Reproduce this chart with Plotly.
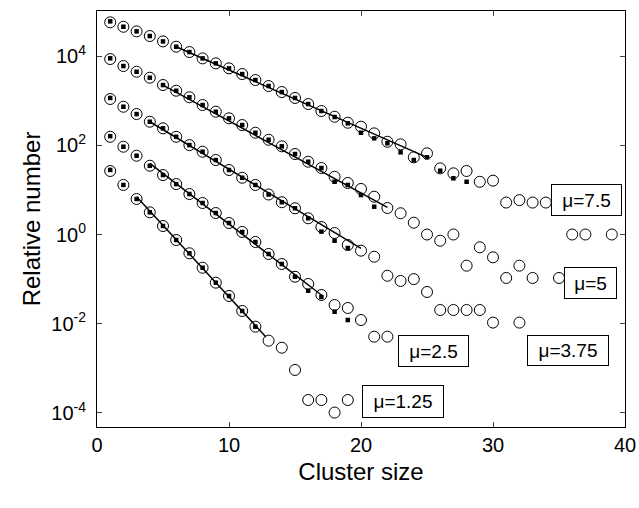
import plotly.graph_objects as go

# ---------------- data ----------------
mu_labels = ["\u03bc=7.5", "\u03bc=5", "\u03bc=3.75", "\u03bc=2.5", "\u03bc=1.25"]

# mu = 7.5
x_75 = list(range(1, 35)) + [36, 37, 39]
circ_75 = [5.7e4, 4.54e4, 3.58e4, 2.81e4, 2.13e4, 1.62e4, 1.23e4, 8.87e3, 6.86e3, 5.30e3,
           3.95e3, 2.90e3, 2.13e3, 1.56e3, 1.15e3, 840, 586, 436, 320, 261,
           185, 120, 105, 53.7, 66, 30.4, 23.5, 26.5, 15.2, 16.1,
           5.2, 5.9, 5.2, 5.2, 1, 1, 1]
xs_75 = list(range(1, 29))
sq_75 = [6.0e4, 4.54e4, 3.58e4, 2.81e4, 2.13e4, 1.62e4, 1.23e4, 8.87e3, 6.86e3, 5.30e3,
         3.95e3, 2.90e3, 2.13e3, 1.56e3, 1.15e3, 840, 586, 430, 310, 191,
         143, 111, 69.5, 46.7, 53.7, 26.9, 18.2, 15.2]
fitx_75 = [6, 25]
fity_75 = [1.62e4, 53.7]

# mu = 5
x_5 = list(range(1, 34)) + [35]
circ_5 = [8.57e3, 5.97e3, 4.45e3, 3.27e3, 2.24e3, 1.67e3, 1.19e3, 798, 565, 402,
          284, 191, 133, 94.8, 63.7, 42.8, 30.9, 19.7, 14.3, 10.5,
          7.03, 3.93, 2.99, 1.84, 1.0, 0.726, 1.0, 0.2, 0.516, 0.308,
          0.106, 0.2, 0.106, 0.106]
xs_5 = list(range(1, 22))
sq_5 = [8.9e3, 5.97e3, 4.45e3, 3.27e3, 2.24e3, 1.67e3, 1.19e3, 798, 565, 402,
        284, 191, 133, 94.8, 63.7, 42.8, 30.9, 15.2, 12.9, 7.68, 4.2]
fitx_5 = [5, 22]
fity_5 = [2.24e3, 4.07]

# mu = 3.75
x_375 = list(range(1, 31)) + [32]
circ_375 = [1.09e3, 731, 501, 337, 240, 155, 101, 71.7, 46.7, 27.9,
            18.7, 12.9, 7.88, 5.29, 3.87, 2.31, 1.47, 1.08, 0.582, 0.434,
            0.318, 0.119, 0.0908, 0.1, 0.0515, 0.0203, 0.0203, 0.0203, 0.0203, 0.0106,
            0.0106]
xs_375 = list(range(1, 20))
sq_375 = [1.15e3, 731, 501, 337, 240, 155, 101, 71.7, 46.7, 27.9,
          18.7, 12.9, 7.88, 5.29, 3.87, 2.31, 1.16, 0.726, 0.498]
fitx_375 = [4, 20]
fity_375 = [337, 0.491]

# mu = 2.5
x_25 = list(range(1, 23))
circ_25 = [155, 92.8, 58.3, 34.8, 21.5, 13.5, 8.08, 5.08, 3.03, 1.81,
           1.14, 0.679, 0.366, 0.218, 0.113, 0.0778, 0.0441, 0.0263, 0.0225, 0.0121,
           0.00513, 0.00513]
xs_25 = list(range(1, 20))
sq_25 = [160, 92.8, 58.3, 34.8, 21.5, 13.5, 8.08, 5.08, 3.03, 1.81,
         1.14, 0.679, 0.366, 0.218, 0.113, 0.055, 0.0398, 0.0186, 0.0121]
fitx_25 = [4, 17]
fity_25 = [39.4, 0.0441]

# mu = 1.25
x_125 = list(range(1, 20))
circ_125 = [26.5, 12.9, 6.25, 3.14, 1.55, 0.753, 0.379, 0.180, 0.0832, 0.0419,
            0.0193, 0.00859, 0.00417, 0.0029, 9.2e-4, 1.95e-4, 1.95e-4, 1.02e-4, 1.95e-4]
xs_125 = list(range(1, 13))
sq_125 = [28, 12.9, 6.25, 3.14, 1.55, 0.753, 0.379, 0.180, 0.0832, 0.0419,
          0.0193, 0.00859]
fitx_125 = [3, 12.8]
fity_125 = [7.03, 5.05e-3]

ytick_vals = [1e-4, 1e-2, 1, 1e2, 1e4]
ytick_text = ["10<sup>-4</sup>", "10<sup>-2</sup>", "10<sup>0</sup>", "10<sup>2</sup>", "10<sup>4</sup>"]
xtick_vals = [0, 10, 20, 30, 40]

series = [
    (x_75, circ_75, xs_75, sq_75, fitx_75, fity_75),
    (x_5, circ_5, xs_5, sq_5, fitx_5, fity_5),
    (x_375, circ_375, xs_375, sq_375, fitx_375, fity_375),
    (x_25, circ_25, xs_25, sq_25, fitx_25, fity_25),
    (x_125, circ_125, xs_125, sq_125, fitx_125, fity_125),
]

# label box placement (x in data units, y in log10 units) and box sizes (px)
label_pos = [(37.05, 0.773, 69, 30), (37.4, -1.087, 51, 30), (35.7, -2.60, 80, 29),
             (25.5, -2.61, 69, 30), (23.2, -3.742, 80, 31)]

FONT = "Arial, Liberation Sans, Helvetica, sans-serif"

fig = go.Figure()
for (cx, cy, sx, sy, fx, fy), name in zip(series, mu_labels):
    fig.add_trace(go.Scatter(x=fx, y=fy, mode="lines", line=dict(color="black", width=1.5),
                             showlegend=False, hoverinfo="skip"))
    fig.add_trace(go.Scatter(x=cx, y=cy, mode="markers", name=name + " circles",
                             marker=dict(symbol="circle-open", size=11, color="black",
                                         line=dict(width=1, color="black")),
                             showlegend=False))
    fig.add_trace(go.Scatter(x=sx, y=sy, mode="markers", name=name + " squares",
                             marker=dict(symbol="square", size=4.5, color="black",
                                         line=dict(width=0)),
                             showlegend=False))

for name, (lx, ly, w, h) in zip(mu_labels, label_pos):
    fig.add_annotation(x=lx, y=ly, xref="x", yref="y", text=name, showarrow=False,
                       font=dict(family=FONT, size=19, color="black"),
                       bgcolor="white", bordercolor="black", borderwidth=1,
                       width=w, height=h, borderpad=0, xanchor="center", yanchor="middle")

fig.update_layout(
    width=639, height=508,
    margin=dict(l=97, r=14, t=11, b=81, autoexpand=False),
    paper_bgcolor="white", plot_bgcolor="white",
    font=dict(family=FONT, size=20, color="black"),
    xaxis=dict(range=[0, 40], tickvals=xtick_vals, ticks="inside", ticklen=5,
               showline=True, linecolor="black", linewidth=1, mirror="ticks",
               showgrid=False, zeroline=False, tickfont=dict(size=20), automargin=False,
               title=dict(text="Cluster size", font=dict(size=24), standoff=8)),
    yaxis=dict(type="log", range=[-4.315, 5.01], tickvals=ytick_vals, ticktext=ytick_text,
               ticks="inside", ticklen=5, showline=True, linecolor="black", linewidth=1,
               mirror="ticks", showgrid=False, zeroline=False, tickfont=dict(size=20),
               automargin=False, ticklabelstandoff=6,
               title=dict(text="Relative number", font=dict(size=24), standoff=3)),
)

# remove the page's default body margin so the figure fills the 639x508 window exactly
fig.write_html("out.html", config={"displayModeBar": False},
               post_script="document.body.style.margin='0';document.body.style.overflow='hidden';")
